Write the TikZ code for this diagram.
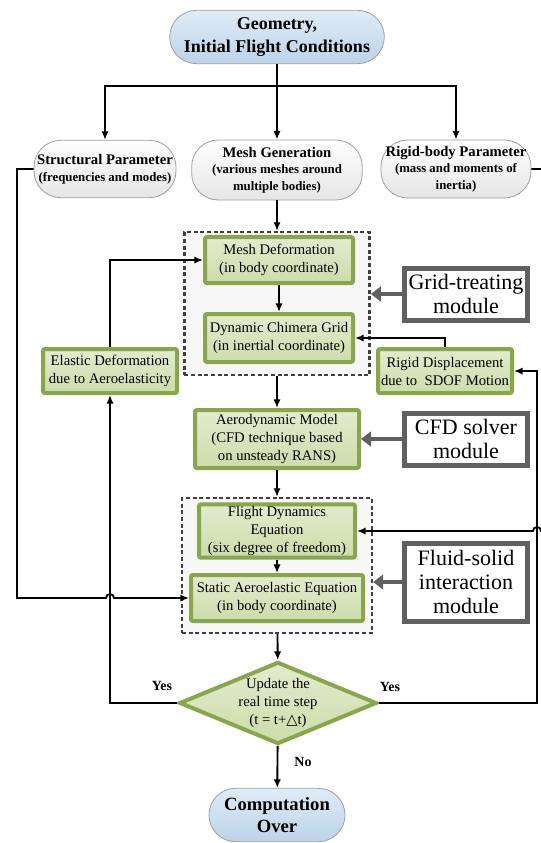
\documentclass[tikz,border=0pt]{standalone}
\usepackage{fontspec}
\setmainfont{Liberation Serif}
\newfontfamily\trifont{DejaVu Sans}
\usetikzlibrary{arrows.meta,shapes.geometric}
\definecolor{boxgreen}{RGB}{137,165,78}
\definecolor{greentop}{RGB}{226,236,206}
\definecolor{greenbot}{RGB}{204,220,170}
\definecolor{bluetop}{RGB}{224,236,247}
\definecolor{bluebot}{RGB}{188,211,234}
\definecolor{modgray}{RGB}{96,96,96}
\newcommand{\paramsub}{\fontsize{9.6}{10.8}\selectfont}
\begin{document}
\begin{tikzpicture}[x=0.75pt, y=-0.75pt,
    startstop/.style={draw=gray!75, line width=0.6pt, rounded corners=20pt, top color=bluetop, bottom color=bluebot, align=center, inner sep=0pt, font=\bfseries\fontsize{13.5}{17}\selectfont},
    param/.style={draw=gray!75, line width=0.6pt, rounded corners=20pt, top color=white, bottom color=gray!20, align=center, inner sep=0pt, font=\bfseries\fontsize{11}{12.5}\selectfont},
    greenbox/.style={draw=boxgreen, line width=3pt, rounded corners=1.5pt, top color=greentop, bottom color=greenbot, align=center, inner sep=0pt, font=\fontsize{11}{13.5}\selectfont},
    module/.style={draw=modgray, line width=3.75pt, fill=white, align=center, inner sep=0pt, font=\fontsize{16.5}{18}\selectfont},
    dashbox/.style={draw=black!75, line width=1.8pt, dash pattern=on 3pt off 2pt, fill=gray!6},
    conn/.style={line width=1.4pt, -{Latex[length=6.5pt,width=5.5pt]}},
    modarrow/.style={draw=modgray, line width=3pt, -{Triangle[length=7.5pt,width=11pt]}},
    lbl/.style={font=\bfseries\fontsize{10.5}{12}\selectfont}]
  \useasboundingbox (0,0) rectangle (541,843);

  % Dashed module frames
  \node[dashbox, minimum width=139pt, minimum height=107pt] (grid) at (277,303.5) {};
  \node[dashbox, minimum width=142.5pt, minimum height=101pt] (fsi) at (277,565.5) {};

  % Start
  \node[startstop, minimum width=161pt, minimum height=40pt] (geom) at (277,37) {Geometry,\\Initial Flight Conditions};

  % Input parameters
  \node[param, minimum width=106.5pt, minimum height=43pt] (struct) at (105,169) {Structural Parameter\\{\paramsub (frequencies and modes)}};
  \node[param, minimum width=128pt, minimum height=45pt] (mesh) at (277,170) {Mesh Generation\\{\paramsub (various meshes around}\\{\paramsub multiple bodies)}};
  \node[param, minimum width=112.5pt, minimum height=43.5pt] (rigid) at (456,169) {Rigid-body Parameter\\{\paramsub (mass and moments of}\\{\paramsub inertia)}};

  % Grid treatment
  \node[greenbox, minimum width=111pt, minimum height=34.5pt] (meshdef) at (279,260) {Mesh Deformation\\(in body coordinate)};
  \node[greenbox, minimum width=111pt, minimum height=36pt] (chimera) at (279,338) {Dynamic Chimera Grid\\(in inertial coordinate)};
  \node[greenbox, minimum width=100.5pt, minimum height=33pt] (elastic) at (110,371) {Elastic Deformation\\due to Aeroelasticity};
  \node[greenbox, minimum width=100.5pt, minimum height=33pt] (rigiddisp) at (445,371) {Rigid Displacement\\due to~ SDOF Motion};

  % Flow solver
  \node[greenbox, minimum width=123pt, minimum height=43.5pt] (aero) at (277,439) {Aerodynamic Model\\(CFD technique based\\on unsteady RANS)};

  % Fluid-solid coupling
  \node[greenbox, minimum width=117pt, minimum height=40pt] (flight) at (277,531) {Flight Dynamics\\Equation\\(six degree of freedom)};
  \node[greenbox, minimum width=129pt, minimum height=34.5pt] (static) at (277,598) {Static Aeroelastic Equation\\(in body coordinate)};

  % Time step decision
  \node[greenbox, diamond, aspect=2.4, rounded corners=0pt] (update) at (278,703) {Update the\\real time step\\(t = t+{\trifont △}t)};

  % End
  \node[startstop, minimum width=102pt, minimum height=40pt, font=\bfseries\fontsize{14}{16.5}\selectfont] (over) at (277,815) {Computation\\Over};

  % Module labels
  \node[module, minimum width=92pt, minimum height=39pt] (gridmod) at (466,294) {Grid-treating\\module};
  \node[module, minimum width=92pt, minimum height=39pt] (cfdmod) at (466,439) {CFD solver\\module};
  \node[module, minimum width=92pt, minimum height=58.5pt] (fsimod) at (466,582) {Fluid-solid\\interaction\\module};

  % Main flow
  \coordinate (split) at (277,86);
  \draw[conn] (geom) -- (mesh);
  \draw[conn] (split) -| (struct);
  \draw[conn] (split) -| (rigid);
  \draw[conn] (mesh) -- (grid);
  \draw[conn] (meshdef) -- (chimera);
  \draw[conn] (grid) -- (aero);
  \draw[conn] (aero) -- (fsi);
  \draw[conn] (flight) -- (static);
  \draw[conn] (fsi) -- (update);
  \draw[conn] (update) -- (over);

  % Feedback loops
  \coordinate (yesr) at (537,703);
  \draw[conn] (elastic) |- (meshdef);
  \draw[conn] (rigiddisp) |- (chimera);
  \draw[conn] (update.west) -| (elastic);
  \draw[conn] (update.east) -- (yesr) |- (rigiddisp.east);
  \draw[conn] (struct.west) -| (17,598) -- (106,598) arc[start angle=180, end angle=360, radius=4] -- (static.west);
  \draw[conn] (rigid.east) -- (548,169) |- (541,531) arc[start angle=0, end angle=-180, radius=4] -- (flight.east);

  % Branch labels
  \node[lbl] (yesl) at (162,686) {Yes};
  \node[lbl] (yesrl) at (390,687) {Yes};
  \node[lbl] (no) at (303,762) {No};

  % Module pointers
  \draw[modarrow] (gridmod.west) -- (gridmod.west -| grid.east);
  \draw[modarrow] (cfdmod) -- (aero);
  \draw[modarrow] (fsimod.west) -- (fsimod.west -| fsi.east);
\end{tikzpicture}
\end{document}
